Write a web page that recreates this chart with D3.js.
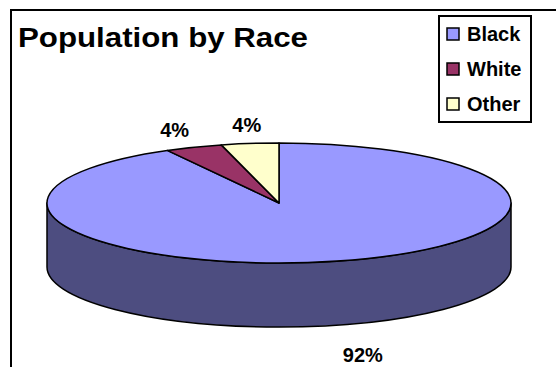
<!DOCTYPE html>
<html>
<head>
<meta charset="utf-8">
<script src="https://cdn.jsdelivr.net/npm/d3@7"></script>
<style>
  html, body { margin: 0; padding: 0; background: #fff; }
  svg { display: block; }
  text { font-family: "Liberation Sans", Arial, Helvetica, sans-serif; font-weight: bold; }
</style>
</head>
<body>
<svg id="chart" width="556" height="367"></svg>
<script>
// Population shares by race (percent)
const categories = ["Black", "White", "Other"];
const values = [92, 4, 4];
const topColors = ["#9999FF", "#993366", "#FFFFCC"];
const sideColors = ["#4D4D80", "#4D1A33", "#808066"];
const title = "Population by Race";

const svg = d3.select("#chart");

// Outer chart frame (continues past the right and bottom edges)
svg.append("rect")
  .attr("x", 11).attr("y", 10)
  .attr("width", 600).attr("height", 400)
  .attr("fill", "#fff").attr("stroke", "#000").attr("stroke-width", 2);

// Title
svg.append("text")
  .attr("x", 18).attr("y", 47)
  .attr("font-size", 27)
  .attr("textLength", 290).attr("lengthAdjust", "spacingAndGlyphs")
  .text(title);

// 3D pie geometry
const cx = 279, cy = 203, rx = 232, ry = 60, depth = 64;
const pie = d3.pie().sort(null).value(d => d.value);
const arcs = pie(categories.map((c, i) => ({ name: c, value: values[i], i })));

const rim = (a, dy = 0) => [cx + rx * Math.sin(a), cy - ry * Math.cos(a) + dy];

function topPath(a0, a1) {
  const p0 = rim(a0), p1 = rim(a1);
  const large = (a1 - a0) > Math.PI ? 1 : 0;
  return `M${cx},${cy}L${p0[0]},${p0[1]}A${rx},${ry} 0 ${large} 1 ${p1[0]},${p1[1]}Z`;
}

function sidePath(a0, a1) {
  // only the front half of the rim (facing the viewer) is visible
  const s = Math.max(a0, Math.PI / 2), e = Math.min(a1, 3 * Math.PI / 2);
  if (e <= s) return null;
  const p0 = rim(s), p1 = rim(e), q1 = rim(e, depth), q0 = rim(s, depth);
  const large = (e - s) > Math.PI ? 1 : 0;
  return `M${p0[0]},${p0[1]}A${rx},${ry} 0 ${large} 1 ${p1[0]},${p1[1]}` +
         `L${q1[0]},${q1[1]}A${rx},${ry} 0 ${large} 0 ${q0[0]},${q0[1]}Z`;
}

const g = svg.append("g");

// side walls
arcs.forEach(d => {
  const p = sidePath(d.startAngle, d.endAngle);
  if (p) g.append("path").attr("d", p)
    .attr("fill", sideColors[d.data.i])
    .attr("stroke", "#000").attr("stroke-width", 1.5).attr("stroke-linejoin", "round");
});

// top faces
arcs.forEach(d => {
  g.append("path").attr("d", topPath(d.startAngle, d.endAngle))
    .attr("fill", topColors[d.data.i])
    .attr("stroke", "#000").attr("stroke-width", 1.5).attr("stroke-linejoin", "round");
});

// percentage labels outside each slice
const lx = 297, ly = 79;
arcs.forEach(d => {
  const a = (d.startAngle + d.endAngle) / 2;
  const front = Math.cos(a) < 0;
  const x = cx + lx * Math.sin(a) + (front ? 10 : 5);
  const y = cy - ly * Math.cos(a) + (front ? depth + 11 : 0);
  svg.append("text")
    .attr("x", x).attr("y", y)
    .attr("text-anchor", "middle").attr("dominant-baseline", "central")
    .attr("font-size", 20)
    .text(d.data.value + "%");
});

// Legend
const legend = svg.append("g");
legend.append("rect")
  .attr("x", 439).attr("y", 16).attr("width", 92).attr("height", 106)
  .attr("fill", "#fff").attr("stroke", "#000").attr("stroke-width", 2);

const rowY = d3.scalePoint().domain(categories).range([34, 104]);
categories.forEach((c, i) => {
  const y = rowY(c);
  legend.append("rect")
    .attr("x", 447).attr("y", y - 6).attr("width", 12).attr("height", 12)
    .attr("fill", topColors[i]).attr("stroke", "#000").attr("stroke-width", 1.5);
  legend.append("text")
    .attr("x", 467).attr("y", y + 7)
    .attr("font-size", 20)
    .text(c);
});
</script>
</body>
</html>
